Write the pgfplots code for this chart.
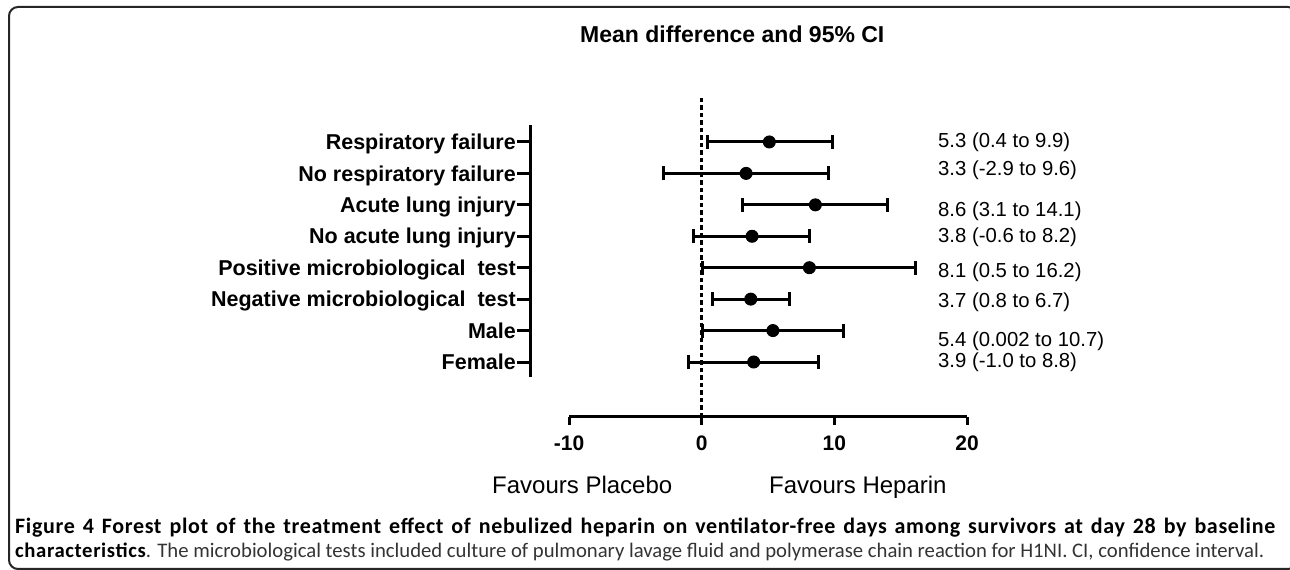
\documentclass[border=0pt]{standalone}
\usepackage{fontspec}
\setmainfont{Liberation Sans}
\newfontfamily\capfont{Carlito}
\newfontfamily\capfontb{Carlito}[LetterSpace=3]
\usepackage{pgfplots}
\usepackage{pgfplotstable}
\pgfplotsset{compat=1.18}
\pgfplotstableread{
y m lo hi
8 5.1 0.43 9.87
7 3.35 -2.87 9.55
6 8.57 3.04 14.0
5 3.8 -0.65 8.14
4 8.12 0.05 16.1
3 3.7 0.8 6.62
2 5.37 0.05 10.7
1 3.92 -0.96 8.77
}\forest
\begin{document}
\begin{tikzpicture}[x=1pt,y=1pt]
\useasboundingbox (0,0) rectangle (1290,570);
\clip (0,0) rectangle (1290,570);
\draw[line width=2pt, rounded corners=9pt, black!85] (9,1) rectangle (1297,563);
% title
\node[anchor=base west, inner sep=0pt] at (580,527) {\bfseries\fontsize{23}{23}\selectfont Mean difference and 95\% CI};
% data axis with y axis
\begin{axis}[
  scale only axis, width=437pt, height=252pt,
  at={(530pt,193pt)}, anchor=south west,
  xmin=-12.94, xmax=20, ymin=0.523, ymax=8.54,
  axis y line*=left, axis x line=none,
  y axis line style={line width=3pt, -},
  ytick={1,...,8},
  yticklabels={Female,Male,{Negative microbiological\ \ test},{Positive microbiological\ \ test},No acute lung injury,Acute lung injury,No respiratory failure,Respiratory failure},
  tick align=outside, major tick length=13pt,
  ytick style={line width=3pt, black},
  yticklabel style={font=\bfseries\fontsize{21.5}{21.5}\selectfont, anchor=base east, inner sep=0pt, xshift=-1pt, yshift=-7.7pt},
  clip=false,
]
\addplot[black, line width=2.6pt, dash pattern=on 4.5pt off 3pt] coordinates {(0,-0.75) (0,9.43)};
\addplot[black, only marks, mark=*, mark size=6pt, mark options={fill=black, line width=1pt},
  error bars/.cd, x dir=both, x explicit, error mark=|,
  error bar style={line width=3pt, black},
  error mark options={line width=3pt, mark size=7pt, black}]
  table[x=m, y=y, x error plus expr=\thisrow{hi}-\thisrow{m}, x error minus expr=\thisrow{m}-\thisrow{lo}] {\forest};
\end{axis}
% x axis
\begin{axis}[
  scale only axis, width=398pt, height=1pt,
  at={(569pt,153pt)}, anchor=south west,
  xmin=-10, xmax=20, ymin=0, ymax=1,
  axis x line*=bottom, axis y line=none,
  x axis line style={line width=3pt, -},
  xtick={-10,0,10,20}, xticklabels={-10,0,10,20},
  tick align=outside, major tick length=8pt,
  xtick style={line width=3pt, black},
  xticklabel style={font=\bfseries\fontsize{21}{21}\selectfont, anchor=base, inner sep=0pt, yshift=-26pt},
]
\end{axis}
% CI labels
\begin{scope}[every node/.style={anchor=base west, inner sep=0pt, font=\fontsize{20.3}{20.3}\selectfont}]
\node at (938,422.7) {5.3 (0.4 to 9.9)};
\node at (938,394.7) {3.3 (-2.9 to 9.6)};
\node at (938,353.7) {8.6 (3.1 to 14.1)};
\node at (938,327.3) {3.8 (-0.6 to 8.2)};
\node at (938,292.7) {8.1 (0.5 to 16.2)};
\node at (938,262.7) {3.7 (0.8 to 6.7)};
\node at (938,223.4) {5.4 (0.002 to 10.7)};
\node at (938,202.7) {3.9 (-1.0 to 8.8)};
\end{scope}
% favours
\node[anchor=base west, inner sep=0pt] at (492,76) {\fontsize{24}{24}\selectfont Favours Placebo};
\node[anchor=base west, inner sep=0pt] at (769,76) {\fontsize{24}{24}\selectfont Favours Heparin};
% caption
\node[anchor=base west, inner sep=0pt] at (15,36) {\capfontb\bfseries\fontsize{22}{22}\selectfont\makebox[1260pt][s]{Figure 4 Forest plot of the treatment effect of nebulized heparin on ventilator-free days among survivors at day 28 by baseline}};
\node[anchor=base west, inner sep=0pt] at (15,12) {\fontsize{20.7}{20.7}\selectfont{\capfontb\bfseries characteristics}\capfont\textcolor{black!80}{. The microbiological tests included culture of pulmonary lavage fluid and polymerase chain reaction for H1NI. CI, confidence interval.}};
\end{tikzpicture}
\end{document}
